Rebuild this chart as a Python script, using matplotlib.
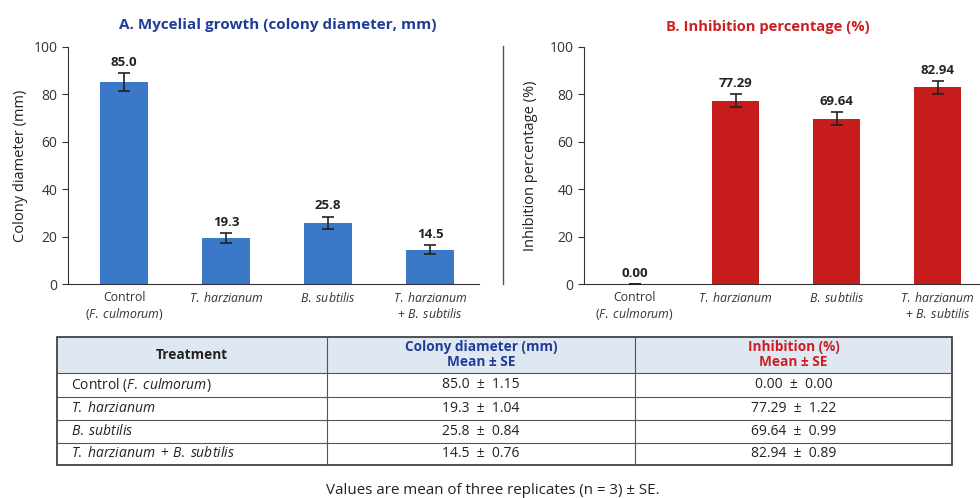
import matplotlib
matplotlib.use("Agg")
import matplotlib.pyplot as plt
from matplotlib.lines import Line2D
from matplotlib.patches import Rectangle

plt.rcParams['font.family'] = ['Open Sans', 'DejaVu Sans']
plt.rcParams['mathtext.fontset'] = 'custom'
plt.rcParams['mathtext.rm'] = 'Open Sans'
plt.rcParams['mathtext.it'] = 'Open Sans:italic'
plt.rcParams['mathtext.bf'] = 'Open Sans:bold'

# data
treatments = ["Control (F. culmorum)", "T. harzianum", "B. subtilis",
              "T. harzianum + B. subtilis"]
colony_mean = [85.0, 19.3, 25.8, 14.5]
colony_se = [1.15, 1.04, 0.84, 0.76]
inhib_mean = [0.00, 77.29, 69.64, 82.94]
inhib_se = [0.00, 1.22, 0.99, 0.89]
# error bars as drawn in the charts
colony_err = [3.8, 2.1, 2.6, 1.9]
inhib_err = [0.0, 2.8, 2.8, 2.7]


def it_body(s):
    return r"\mathit{" + s.replace(" ", r"\;") + "}"


def it(s):
    # italic via mathtext, keep normal-ish word spacing
    return "$" + it_body(s) + "$"


tick_labels = ["Control\n(" + it("F. culmorum") + ")",
               it("T. harzianum"),
               it("B. subtilis"),
               it("T. harzianum") + "\n+ " + it("B. subtilis")]
row_labels = ["Control (" + it("F. culmorum") + ")",
              it("T. harzianum"),
              it("B. subtilis"),
              "$" + it_body("T. harzianum") + r"\;\;\mathrm{+}\;" + it_body("B. subtilis") + "$"]

BLUE = "#3b78c8"
RED = "#c61c1c"
TBLUE = "#1f3c99"
TRED = "#cc1f1f"
W, H = 980, 498

fig = plt.figure(figsize=(9.8, 4.98), dpi=100)


def px_axes(x0, y0, x1, y1):
    return fig.add_axes([x0 / W, 1 - y1 / H, (x1 - x0) / W, (y1 - y0) / H])


def bar_panel(ax, vals, errs, color, fmt, xlim):
    x = range(len(vals))
    ax.bar(x, vals, 0.47, color=color, zorder=2)
    ax.errorbar(x, vals, yerr=errs, fmt='none', ecolor='#222222',
                elinewidth=1.2, capsize=4, capthick=1.2, zorder=3)
    for i, (v, e) in enumerate(zip(vals, errs)):
        ax.annotate(fmt.format(v), (i, v + e), xytext=(0, 3),
                    textcoords='offset points', ha='center', va='bottom',
                    fontsize=9.5, fontweight='bold', color='#222222')
    ax.set_ylim(0, 100)
    ax.set_xlim(*xlim)
    ax.set_xticks(list(x))
    ax.set_xticklabels(tick_labels, fontsize=8.8, color='#333333')
    ax.set_yticks([0, 20, 40, 60, 80, 100])
    ax.tick_params(axis='y', labelsize=10, colors='#333333', length=4)
    ax.tick_params(axis='x', length=0, pad=5)
    for s in ['top', 'right']:
        ax.spines[s].set_visible(False)
    for s in ['left', 'bottom']:
        ax.spines[s].set_color('#333333')


ax1 = px_axes(68, 46.7, 479, 284)
bar_panel(ax1, colony_mean, colony_err, BLUE, "{:.1f}", (-0.55, 3.48))
ax1.set_ylabel("Colony diameter (mm)", fontsize=10.5, color='#222222', labelpad=4)
fig.text(278 / W, 1 - 25 / H, "A. Mycelial growth (colony diameter, mm)",
         ha='center', va='center', fontsize=11, fontweight='bold', color=TBLUE)

ax2 = px_axes(584, 46.7, 980, 284)
bar_panel(ax2, inhib_mean, inhib_err, RED, "{:.2f}", (-0.5, 3.42))
ax2.set_ylabel("Inhibition percentage (%)", fontsize=10.5, color='#222222', labelpad=8)
fig.text(768 / W, 1 - 27 / H, "B. Inhibition percentage (%)",
         ha='center', va='center', fontsize=10.6, fontweight='bold', color=TRED)

fig.add_artist(Line2D([503 / W, 503 / W], [1 - 46 / H, 1 - 284 / H],
                      color='#555555', lw=1))

# table
tb = fig.add_axes([0, 0, 1, 1], zorder=-1)
tb.set_xlim(0, W)
tb.set_ylim(H, 0)
tb.axis('off')
cols = [57, 327, 635, 952]
rows = [337, 372.5, 396.5, 420, 442.5, 464.5]
tb.add_patch(Rectangle((cols[0], rows[0]), cols[-1] - cols[0], rows[1] - rows[0],
                       facecolor='#dfe7f3', edgecolor='none'))
for y in rows[1:-1]:
    tb.plot([cols[0], cols[-1]], [y, y], color='#555555', lw=0.8)
for x in cols[1:-1]:
    tb.plot([x, x], [rows[0], rows[-1]], color='#555555', lw=0.8)
tb.add_patch(Rectangle((cols[0], rows[0]), cols[-1] - cols[0], rows[-1] - rows[0],
                       facecolor='none', edgecolor='#333333', lw=1.2))

headers = ["Treatment", "Colony diameter (mm)\nMean ± SE", "Inhibition (%)\nMean ± SE"]
hcolors = ['#222222', TBLUE, TRED]
hy = (rows[0] + rows[1]) / 2
for j, (h, c) in enumerate(zip(headers, hcolors)):
    tb.text((cols[j] + cols[j + 1]) / 2, hy, h, ha='center', va='center',
            fontsize=9.8, fontweight='bold', color=c, linespacing=1.05)

for i in range(len(treatments)):
    yc = (rows[i + 1] + rows[i + 2]) / 2
    tb.text(cols[0] + 14, yc, row_labels[i], ha='left', va='center',
            fontsize=10, color='#222222')
    tb.text((cols[1] + cols[2]) / 2, yc, f"{colony_mean[i]:.1f}  ±  {colony_se[i]:.2f}",
            ha='center', va='center', fontsize=10, color='#222222')
    tb.text((cols[2] + cols[3]) / 2, yc, f"{inhib_mean[i]:.2f}  ±  {inhib_se[i]:.2f}",
            ha='center', va='center', fontsize=10, color='#222222')

fig.text(493 / W, 1 - 490 / H, "Values are mean of three replicates (n = 3) ± SE.",
         ha='center', va='center', fontsize=10.9, color='#222222')

fig.savefig('out.png', dpi=100)
